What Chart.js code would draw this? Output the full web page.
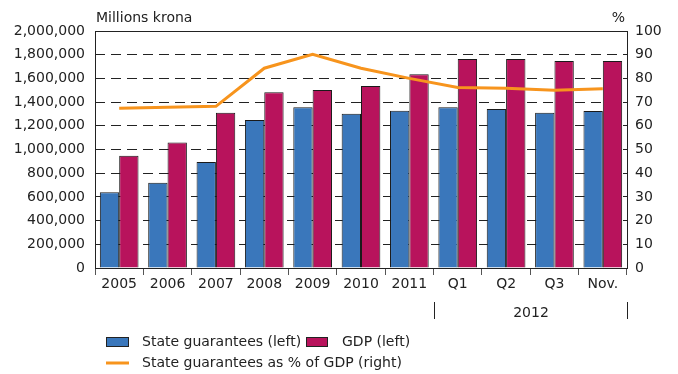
<!DOCTYPE html>
<html lang="en">
<head>
<meta charset="UTF-8">
<title>State guarantees and GDP</title>
<script src="https://cdn.jsdelivr.net/npm/chart.js"></script>
<style>
  html, body { margin: 0; padding: 0; background: #fff; }
  #wrap { width: 678px; height: 374px; position: relative; }
</style>
</head>
<body>
<div id="wrap"><canvas id="grafico" width="678" height="374"></canvas></div>

<script>
// categorias e valores (milhões de coroas)
const categorias = ['2005', '2006', '2007', '2008', '2009', '2010', '2011', 'Q1', 'Q2', 'Q3', 'Nov.'];
const garantias = [639000, 720000, 894000, 1249000, 1356000, 1302000, 1328000, 1356000, 1342000, 1311000, 1325000];
const pib = [948000, 1060000, 1310000, 1483000, 1502000, 1536000, 1634000, 1764000, 1764000, 1747000, 1747000];
const percentual = [67.4, 67.8, 68.2, 84.3, 90.2, 84.3, 80.0, 76.2, 75.8, 75.0, 75.6];

const ticksEsquerda = [0, 200000, 400000, 600000, 800000, 1000000, 1200000, 1400000, 1600000, 1800000, 2000000];
const ticksDireita = [0, 10, 20, 30, 40, 50, 60, 70, 80, 90, 100];
const grupoAno = '2012';
const grupoInicio = 7; // primeira categoria de 2012

const fonte = '"DejaVu Sans", sans-serif';
const azul = '#3a77bb';
const vinho = '#b8135c';
const laranja = '#f7941d';

// moldura, rótulo de 2012 e legenda
const extras = {
  id: 'extras',
  afterDraw(chart) {
    const ctx = chart.ctx;
    const a = chart.chartArea;
    ctx.save();

    ctx.strokeStyle = '#222';
    ctx.lineWidth = 1;
    ctx.strokeRect(Math.round(a.left) + 0.5, Math.round(a.top) + 0.5,
      Math.round(a.right - a.left), Math.round(a.bottom - a.top));

    ctx.fillStyle = '#222';
    ctx.font = '14px ' + fonte;
    ctx.textBaseline = 'middle';
    ctx.textAlign = 'left';
    ctx.fillText('Millions krona', a.left + 1, 18);
    ctx.textAlign = 'right';
    ctx.fillText('%', a.right - 2, 18);

    // separadores do grupo 2012
    const passo = (a.right - a.left) / categorias.length;
    const xi = Math.round(a.left + passo * grupoInicio) + 0.5;
    const xf = Math.round(a.right) + 0.5;
    ctx.beginPath();
    ctx.moveTo(xi, 302); ctx.lineTo(xi, 319);
    ctx.moveTo(xf, 302); ctx.lineTo(xf, 319);
    ctx.stroke();
    ctx.textAlign = 'center';
    ctx.fillText(grupoAno, (xi + xf) / 2, 313);

    // legenda
    const ds = chart.data.datasets;
    ctx.textAlign = 'left';
    ctx.lineWidth = 1;
    ctx.strokeStyle = '#222';
    ctx.fillStyle = azul;
    ctx.fillRect(106, 337, 23, 9);
    ctx.strokeRect(106.5, 337.5, 22, 9);
    ctx.fillStyle = vinho;
    ctx.fillRect(306, 337, 22, 9);
    ctx.strokeRect(306.5, 337.5, 21, 9);
    ctx.fillStyle = '#222';
    ctx.fillText(ds[1].label, 142, 342);
    ctx.fillText(ds[2].label, 342, 342);

    ctx.strokeStyle = laranja;
    ctx.lineWidth = 3;
    ctx.beginPath();
    ctx.moveTo(106, 363); ctx.lineTo(129, 363);
    ctx.stroke();
    ctx.fillText(ds[0].label, 142, 363);

    ctx.restore();
  }
};

new Chart(document.getElementById('grafico'), {
  type: 'bar',
  data: {
    labels: categorias,
    datasets: [
      {
        type: 'line',
        label: 'State guarantees as % of GDP (right)',
        data: percentual,
        yAxisID: 'y1',
        borderColor: laranja,
        borderWidth: 3,
        pointRadius: 0,
        tension: 0,
        order: 0
      },
      {
        label: 'State guarantees (left)',
        data: garantias,
        yAxisID: 'y',
        backgroundColor: azul,
        borderColor: '#1a1a1a',
        borderWidth: 1,
        order: 1
      },
      {
        label: 'GDP (left)',
        data: pib,
        yAxisID: 'y',
        backgroundColor: vinho,
        borderColor: '#1a1a1a',
        borderWidth: 1,
        order: 1
      }
    ]
  },
  options: {
    responsive: false,
    animation: false,
    categoryPercentage: 0.8,
    barPercentage: 1.0,
    layout: { padding: { top: 31, right: 0, bottom: 0, left: 0 } },
    plugins: {
      legend: { display: false },
      tooltip: { enabled: false }
    },
    scales: {
      x: {
        afterFit(s) { s.height = 106; },
        grid: {
          offset: true,
          drawOnChartArea: false,
          drawTicks: true,
          tickLength: 7,
          color: '#555'
        },
        border: { display: false },
        ticks: {
          padding: 1,
          color: '#222',
          font: { family: fonte, size: 14 }
        }
      },
      y: {
        position: 'left',
        min: 0,
        max: 2000000,
        afterFit(s) { s.width = 95; },
        afterBuildTicks(s) { s.ticks = ticksEsquerda.map(v => ({ value: v })); },
        grid: {
          drawTicks: false,
          color: '#222',
          lineWidth: 1
        },
        border: { display: false, dash: [10, 6] },
        ticks: {
          padding: 10,
          color: '#222',
          font: { family: fonte, size: 14 },
          callback: v => v.toLocaleString('en-US')
        }
      },
      y1: {
        position: 'right',
        min: 0,
        max: 100,
        afterFit(s) { s.width = 51; },
        afterBuildTicks(s) { s.ticks = ticksDireita.map(v => ({ value: v })); },
        grid: { display: false, drawTicks: false },
        border: { display: false },
        ticks: {
          padding: 8,
          color: '#222',
          font: { family: fonte, size: 14 }
        }
      }
    }
  },
  plugins: [extras]
});
</script>
</body>
</html>
